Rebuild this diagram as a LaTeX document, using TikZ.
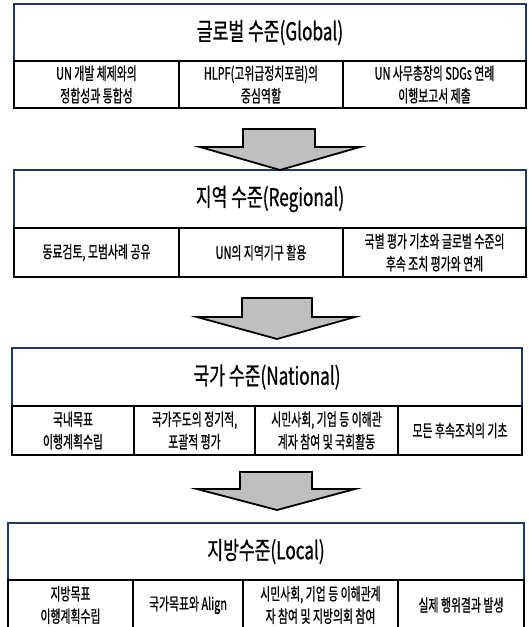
\documentclass[tikz,border=0pt]{standalone}
\usepackage{fontspec}
\newfontfamily\krtitle{Noto Sans CJK KR}[FakeStretch=0.7,FakeBold=0.8]
\newfontfamily\krcell{Noto Sans CJK KR}[FakeStretch=0.64,FakeBold=0.8]
\definecolor{navy}{HTML}{1F3A60}
\definecolor{arrowgray}{HTML}{BFBFBF}
\begin{document}
\begin{tikzpicture}[x=1pt,y=-1pt,
  titlebox/.style={draw=navy, line width=2pt, inner sep=0pt, text=black,
    font=\krtitle\fontsize{24.5}{28}\selectfont},
  cellbox/.style={draw=black, line width=2.6pt, inner sep=0pt, align=center,
    text=black, font=\krcell\fontsize{17}{22.5}\selectfont},
  downarrow/.style={draw=black, line width=1.8pt, fill=arrowgray, line join=miter}]
\clip (0,0) rectangle (528,627);
\fill[white] (0,0) rectangle (528,627);
% ---------------- Global
\node[titlebox, minimum width=512pt, minimum height=57pt] (gt) at (270,32.5) {글로벌 수준(Global)};
\node[cellbox, minimum width=165pt, minimum height=47pt] (g1) at (96.5,84.5) {UN 개발 체제와의\\정합성과 통합성};
\node[cellbox, minimum width=164pt, minimum height=47pt] (g2) at (261,84.5) {HLPF(고위급정치포럼)의\\중심역할};
\node[cellbox, minimum width=183pt, minimum height=47pt] (g3) at (434.5,84.5) {UN 사무총장의 SDGs 연례\\이행보고서 제출};
% ---------------- Regional
\node[titlebox, minimum width=512pt, minimum height=58pt] (rt) at (270,199) {지역 수준(Regional)};
\node[cellbox, minimum width=165pt, minimum height=49pt] (r1) at (96.5,252.5) {동료검토, 모범사례 공유};
\node[cellbox, minimum width=164pt, minimum height=49pt] (r2) at (261,252.5) {UN의 지역기구 활용};
\node[cellbox, minimum width=183pt, minimum height=49pt] (r3) at (434.5,252.5) {국별 평가 기초와 글로벌 수준의\\후속 조치 평가와 연계};
% ---------------- National
\node[titlebox, minimum width=510pt, minimum height=58pt] (nt) at (267,377) {국가 수준(National)};
\node[cellbox, minimum width=122pt, minimum height=49pt] (n1) at (73,430.5) {국내목표\\이행계획수립};
\node[cellbox, minimum width=121pt, minimum height=49pt] (n2) at (194.5,430.5) {국가주도의 정기적,\\포괄적 평가};
\node[cellbox, minimum width=143pt, minimum height=49pt] (n3) at (326.5,430.5) {시민사회, 기업 등 이해관\\계자 참여 및 국회활동};
\node[cellbox, minimum width=124pt, minimum height=49pt] (n4) at (460,430.5) {모든 후속조치의 기초};
% ---------------- Local
\node[titlebox, minimum width=516pt, minimum height=57pt] (lt) at (266,551.5) {지방수준(Local)};
\node[cellbox, minimum width=125pt, minimum height=50pt] (l1) at (70.5,605) {지방목표\\이행계획수립};
\node[cellbox, minimum width=110pt, minimum height=50pt] (l2) at (188,605) {국가목표와 Align};
\node[cellbox, minimum width=155pt, minimum height=50pt] (l3) at (320.5,605) {시민사회, 기업 등 이해관계\\자 참여 및 지방의회 참여};
\node[cellbox, minimum width=126pt, minimum height=50pt] (l4) at (461,605) {실제 행위결과 발생};
% ---------------- Arrows
\draw[downarrow] (243,129) -- (315,129) -- (315,147) -- (360,147) -- (280,170) -- (200,147) -- (243,147) -- cycle;
\draw[downarrow] (242,298) -- (312,298) -- (312,317) -- (355,317) -- (277,339) -- (197,317) -- (242,317) -- cycle;
\draw[downarrow] (240,472) -- (312,472) -- (312,489) -- (355,489) -- (277,510) -- (197,489) -- (240,489) -- cycle;
\end{tikzpicture}
\end{document}
